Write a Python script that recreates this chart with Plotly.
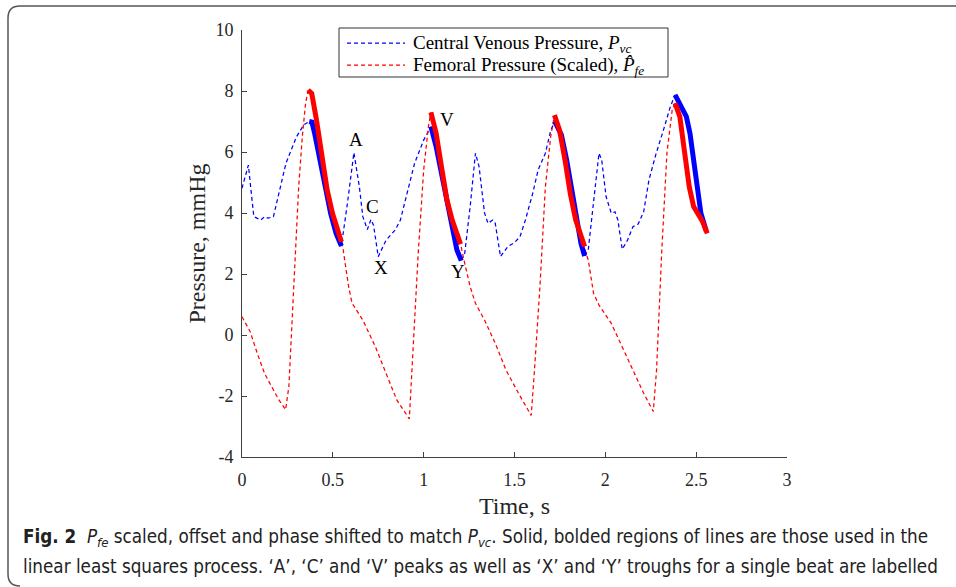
import numpy as np
import plotly.graph_objects as go

# ---------------- data ----------------
cvp_t = [0.000, 0.035, 0.065, 0.104, 0.124, 0.144, 0.173, 0.242, 0.300, 0.340,
         0.370, 0.385, 0.400, 0.430, 0.459, 0.488, 0.518, 0.547, 0.580, 0.616,
         0.646, 0.665, 0.690, 0.710, 0.724, 0.750, 0.793, 0.843, 0.872, 0.910,
         0.950, 1.000, 1.030, 1.040, 1.069, 1.098, 1.128, 1.157, 1.183, 1.207,
         1.226, 1.256, 1.285, 1.305, 1.335, 1.354, 1.380, 1.394, 1.423, 1.463,
         1.500, 1.530, 1.560, 1.600, 1.630, 1.670, 1.700, 1.722, 1.758, 1.787,
         1.817, 1.846, 1.866, 1.886, 1.906, 1.935, 1.965, 1.980, 2.004, 2.033,
         2.053, 2.069, 2.093, 2.122, 2.152, 2.181, 2.211, 2.240, 2.280, 2.320,
         2.358, 2.384, 2.410, 2.446, 2.466, 2.486, 2.506, 2.526, 2.555]
cvp_p = [4.81, 5.57, 3.88, 3.77, 3.88, 3.83, 3.88, 5.63, 6.50, 6.89,
         7.00, 6.98, 6.61, 5.74, 4.86, 3.99, 3.33, 2.92, 4.30, 5.98,
         4.86, 3.88, 3.46, 3.79, 3.60, 2.57, 3.11, 3.44, 3.77, 4.64,
         5.63, 6.39, 6.72, 6.83, 6.17, 5.30, 4.43, 3.55, 2.79, 2.44,
         2.68, 4.21, 5.96, 5.52, 4.00, 3.66, 3.77, 3.66, 2.57, 2.90,
         3.03, 3.22, 3.77, 4.64, 5.41, 5.96, 6.72, 7.00, 6.56, 5.74,
         4.64, 3.66, 3.00, 2.59, 2.79, 4.43, 5.96, 5.74, 4.54, 3.99,
         4.04, 3.77, 2.81, 3.11, 3.55, 3.64, 4.04, 5.08, 5.96, 6.72,
         7.49, 7.87, 7.54, 7.16, 6.61, 5.74, 4.75, 3.99, 3.42]

fem_t = [0.000, 0.045, 0.084, 0.124, 0.163, 0.203, 0.240, 0.258, 0.285, 0.312,
         0.332, 0.350, 0.364, 0.384, 0.410, 0.439, 0.469, 0.498, 0.528, 0.547,
         0.557, 0.587, 0.606, 0.665, 0.734, 0.793, 0.852, 0.921, 0.940, 0.970,
         1.000, 1.026, 1.040, 1.069, 1.098, 1.128, 1.157, 1.183, 1.203, 1.226,
         1.256, 1.285, 1.335, 1.394, 1.453, 1.522, 1.592, 1.610, 1.640, 1.670,
         1.699, 1.720, 1.748, 1.778, 1.807, 1.837, 1.866, 1.886, 1.906, 1.935,
         1.965, 2.033, 2.093, 2.152, 2.211, 2.264, 2.282, 2.310, 2.339, 2.368,
         2.384, 2.410, 2.437, 2.462, 2.486, 2.515, 2.535, 2.561]
fem_p = [0.60, 0.11, -0.60, -1.26, -1.69, -2.13, -2.45, -1.69, 1.58, 4.86,
         6.50, 7.60, 8.03, 7.92, 7.05, 5.96, 4.75, 3.99, 3.44, 3.06,
         2.79, 1.58, 1.04, 0.49, -0.38, -1.26, -2.13, -2.75, -0.60, 2.68,
         5.41, 6.83, 7.30, 6.61, 5.52, 4.43, 3.77, 3.33, 2.98, 2.35,
         1.58, 1.04, 0.49, -0.27, -1.15, -1.91, -2.64, -1.15, 1.58, 4.86,
         6.50, 7.21, 6.72, 5.74, 4.64, 3.77, 3.22, 2.90, 2.46, 1.37,
         0.98, 0.38, -0.38, -1.15, -1.91, -2.51, -1.15, 2.68, 5.96, 7.38,
         7.60, 7.16, 5.96, 4.86, 4.21, 3.88, 3.72, 3.33]

cvp_bold_windows = [(0.370, 0.547), (1.040, 1.207), (1.715, 1.886), (2.384, 2.555)]
fem_bold_windows = [(0.364, 0.547), (1.040, 1.203), (1.720, 1.886), (2.384, 2.561)]

labels_text = ["A", "C", "X", "V", "Y"]
labels_t = [0.625, 0.720, 0.765, 1.130, 1.190]
labels_p = [6.40, 4.20, 2.22, 7.05, 2.08]

x_tickvals = [0, 0.5, 1, 1.5, 2, 2.5, 3]
x_ticktext = ["0", "0.5", "1", "1.5", "2", "2.5", "3"]
y_tickvals = [-4, -2, 0, 2, 4, 6, 8, 10]
y_ticktext = ["-4", "-2", "0", "2", "4", "6", "8", "10"]

legend_names = ["Central Venous Pressure, <i>P</i><sub><i>vc</i></sub>",
                "Femoral Pressure (Scaled), <i>P̂</i><sub><i>fe</i></sub>"]

caption_1 = ("<b>Fig. 2</b>  <i>P</i><sub><i>fe</i></sub> scaled, offset and phase shifted to match "
             "<i>P</i><sub><i>vc</i></sub>. Solid, bolded regions of lines are those used in the")
caption_2 = ("linear least squares process. ‘A’, ‘C’ and ‘V’ peaks as well as ‘X’ and ‘Y’ "
             "troughs for a single beat are labelled")

# ---------------- layout helpers (pixel -> paper) ----------------
W, H = 956, 587
L, R, T, B = 242, 787, 30, 457


def px(x):
    return (x - L) / (R - L)


def py(y):
    return (B - y) / (B - T)


BLUE = "#0000ff"
RED = "#ff0000"
SERIF = "Liberation Serif, Times New Roman, serif"

fig = go.Figure()

fig.add_trace(go.Scatter(x=cvp_t, y=cvp_p, mode="lines", name=legend_names[0],
                         line=dict(color=BLUE, width=1.25, dash="4px,3px"), showlegend=False))
fig.add_trace(go.Scatter(x=fem_t, y=fem_p, mode="lines", name=legend_names[1],
                         line=dict(color=RED, width=1.25, dash="4px,3px"), showlegend=False))

ct = np.array(cvp_t)
cp = np.array(cvp_p)
ft = np.array(fem_t)
fp = np.array(fem_p)

for a, b in cvp_bold_windows:
    m = (ct >= a - 1e-9) & (ct <= b + 1e-9)
    fig.add_trace(go.Scatter(x=ct[m], y=cp[m], mode="lines", showlegend=False,
                             line=dict(color=BLUE, width=5)))
for a, b in fem_bold_windows:
    m = (ft >= a - 1e-9) & (ft <= b + 1e-9)
    fig.add_trace(go.Scatter(x=ft[m], y=fp[m], mode="lines", showlegend=False,
                             line=dict(color=RED, width=5)))

annotations = []
for txt, t, p in zip(labels_text, labels_t, labels_p):
    annotations.append(dict(x=t, y=p, xref="x", yref="y", text=txt, showarrow=False,
                            font=dict(family=SERIF, size=19, color="black")))

# custom legend
shapes = []
shapes.append(dict(type="rect", xref="paper", yref="paper",
                   x0=px(339), x1=px(668), y0=py(77), y1=py(28),
                   line=dict(color="#333333", width=1), fillcolor="white", layer="above"))
for row_y, col, name in [(43, BLUE, legend_names[0]), (65, RED, legend_names[1])]:
    shapes.append(dict(type="line", xref="paper", yref="paper",
                       x0=px(347), x1=px(405), y0=py(row_y), y1=py(row_y),
                       line=dict(color=col, width=1.25, dash="4px,3px"), layer="above"))
    annotations.append(dict(x=px(411), y=py(row_y + 1), xref="paper", yref="paper",
                            text=name, showarrow=False, xanchor="left", yanchor="middle",
                            font=dict(family=SERIF, size=19, color="black")))

# outer rounded frame
r = 12
fx0, fy0, fy1 = 8, 6, 586
path = (f"M {px(W + 5)} {py(fy0)} L {px(fx0 + r)} {py(fy0)} "
        f"Q {px(fx0)} {py(fy0)} {px(fx0)} {py(fy0 + r)} "
        f"L {px(fx0)} {py(fy1 - r)} "
        f"Q {px(fx0)} {py(fy1)} {px(fx0 + r)} {py(fy1)}")
shapes.append(dict(type="path", xref="paper", yref="paper", path=path,
                   line=dict(color="#555555", width=1.5), layer="above"))

CAP = "Liberation Sans Narrow, DejaVu Sans Condensed, Arial Narrow, sans-serif"
annotations.append(dict(x=px(21), y=py(538), xref="paper", yref="paper", text=caption_1,
                        showarrow=False, xanchor="left", yanchor="middle",
                        font=dict(family=CAP, size=18.7, color="#222222")))
annotations.append(dict(x=px(21), y=py(566), xref="paper", yref="paper", text=caption_2,
                        showarrow=False, xanchor="left", yanchor="middle",
                        font=dict(family=CAP, size=18.7, color="#222222")))

axis_common = dict(showgrid=False, zeroline=False, showline=True, linecolor="#404040",
                   linewidth=1, ticks="inside", ticklen=5, tickcolor="#404040",
                   tickfont=dict(family=SERIF, size=18, color="#262626"), mirror=False)

fig.update_layout(
    width=W, height=H,
    margin=dict(l=L, r=W - R, t=T, b=H - B),
    paper_bgcolor="white", plot_bgcolor="white",
    xaxis=dict(range=[0, 3], tickvals=x_tickvals, ticktext=x_ticktext,
               title=dict(text="Time, s", font=dict(family=SERIF, size=24, color="#262626"),
                          standoff=8),
               ticklabelstandoff=6, **axis_common),
    yaxis=dict(range=[-4, 10], tickvals=y_tickvals, ticktext=y_ticktext,
               title=dict(text="Pressure, mmHg", font=dict(family=SERIF, size=24, color="#262626"),
                          standoff=3),
               ticklabelstandoff=4, **axis_common),
    annotations=annotations,
    shapes=shapes,
    showlegend=False,
)

fig.write_html("out.html", config={"displayModeBar": False},
               post_script="document.body.style.margin='0';document.body.style.overflow='hidden';")
